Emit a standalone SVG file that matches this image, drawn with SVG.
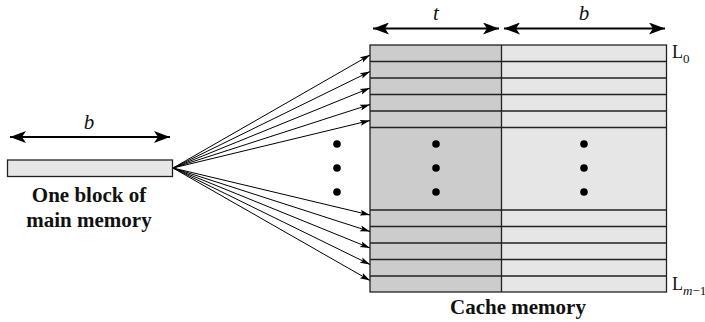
<svg xmlns="http://www.w3.org/2000/svg" width="705" height="322" viewBox="0 0 705 322">
<style>
.bx{stroke:#222;stroke-width:1.3}
.tag{fill:#cccccc}
.dat{fill:#e6e6e6}
.rl{stroke:#222;stroke-width:1.3}
.con{stroke:#000;stroke-width:1;fill:none}
.dim{stroke:#000;stroke-width:2;fill:none}
text{font-family:'Liberation Serif','Times New Roman','DejaVu Serif',Times,serif;fill:#111}
.lbl{font-weight:bold;font-size:21px}
.it{font-style:italic;font-size:21px}
.rm{font-size:18px}
.sub{font-size:13px}
</style>
<defs>
<marker id="ah" viewBox="0 0 10 10" refX="10" refY="5" markerWidth="10" markerHeight="10" markerUnits="userSpaceOnUse" orient="auto">
<path d="M0,2 L10,5 L0,8 L2,5 Z" fill="#000"/>
</marker>
<marker id="dh" viewBox="0 0 16 12" refX="16" refY="6" markerWidth="16" markerHeight="12" markerUnits="userSpaceOnUse" orient="auto-start-reverse">
<path d="M0,0 L16,6 L0,12 L4,6 Z" fill="#000"/>
</marker>
</defs>

<g id="main-block">
<line class="dim" x1="10" y1="137" x2="170" y2="137" marker-start="url(#dh)" marker-end="url(#dh)"/>
<text class="it" x="89" y="129" text-anchor="middle">b</text>
<rect class="bx dat" x="7.5" y="160" width="165" height="16.5"/>
<text class="lbl" x="89" y="202" text-anchor="middle">One block of</text>
<text class="lbl" x="89" y="227" text-anchor="middle">main memory</text>
</g>

<g id="cache">
<line class="dim" x1="373" y1="28.5" x2="499" y2="28.5" marker-start="url(#dh)" marker-end="url(#dh)"/>
<text class="it" x="436" y="20" text-anchor="middle">t</text>
<line class="dim" x1="504" y1="28.5" x2="665" y2="28.5" marker-start="url(#dh)" marker-end="url(#dh)"/>
<text class="it" x="584" y="20" text-anchor="middle">b</text>
<rect class="tag" x="370" y="45" width="131.5" height="247"/>
<rect class="dat" x="501.5" y="45" width="165" height="247"/>
<g class="rl">
<line x1="370" y1="61.5" x2="666.5" y2="61.5"/>
<line x1="370" y1="78" x2="666.5" y2="78"/>
<line x1="370" y1="94.5" x2="666.5" y2="94.5"/>
<line x1="370" y1="111" x2="666.5" y2="111"/>
<line x1="370" y1="127.5" x2="666.5" y2="127.5"/>
<line x1="370" y1="210" x2="666.5" y2="210"/>
<line x1="370" y1="226.5" x2="666.5" y2="226.5"/>
<line x1="370" y1="243" x2="666.5" y2="243"/>
<line x1="370" y1="259.5" x2="666.5" y2="259.5"/>
<line x1="370" y1="276" x2="666.5" y2="276"/>
<line x1="501.5" y1="45" x2="501.5" y2="292"/>
</g>
<rect class="bx" x="370" y="45" width="296.5" height="247" fill="none"/>
<g fill="#000">
<circle cx="436" cy="144" r="3.8"/><circle cx="436" cy="168" r="3.8"/><circle cx="436" cy="192" r="3.8"/>
<circle cx="584" cy="144" r="3.8"/><circle cx="584" cy="168" r="3.8"/><circle cx="584" cy="192" r="3.8"/>
</g>
<text class="rm" x="672" y="58">L<tspan class="sub" dy="5">0</tspan></text>
<text class="rm" x="672" y="290">L<tspan class="sub" dy="5" font-style="italic">m</tspan><tspan class="sub">−1</tspan></text>
<text class="lbl" x="518" y="314" text-anchor="middle">Cache memory</text>
</g>

<g id="ellipsis">
<circle cx="337" cy="144" r="3.8"/><circle cx="337" cy="168" r="3.8"/><circle cx="337" cy="192" r="3.8"/>
</g>

<g id="connectors">
<line class="con" x1="173" y1="168" x2="370" y2="55" marker-end="url(#ah)"/>
<line class="con" x1="173" y1="168" x2="370" y2="71.5" marker-end="url(#ah)"/>
<line class="con" x1="173" y1="168" x2="370" y2="88" marker-end="url(#ah)"/>
<line class="con" x1="173" y1="168" x2="370" y2="104.5" marker-end="url(#ah)"/>
<line class="con" x1="173" y1="168" x2="370" y2="120.5" marker-end="url(#ah)"/>
<line class="con" x1="173" y1="168" x2="370" y2="215" marker-end="url(#ah)"/>
<line class="con" x1="173" y1="168" x2="370" y2="231.5" marker-end="url(#ah)"/>
<line class="con" x1="173" y1="168" x2="370" y2="248" marker-end="url(#ah)"/>
<line class="con" x1="173" y1="168" x2="370" y2="264.5" marker-end="url(#ah)"/>
<line class="con" x1="173" y1="168" x2="370" y2="280.5" marker-end="url(#ah)"/>
</g>
</svg>
